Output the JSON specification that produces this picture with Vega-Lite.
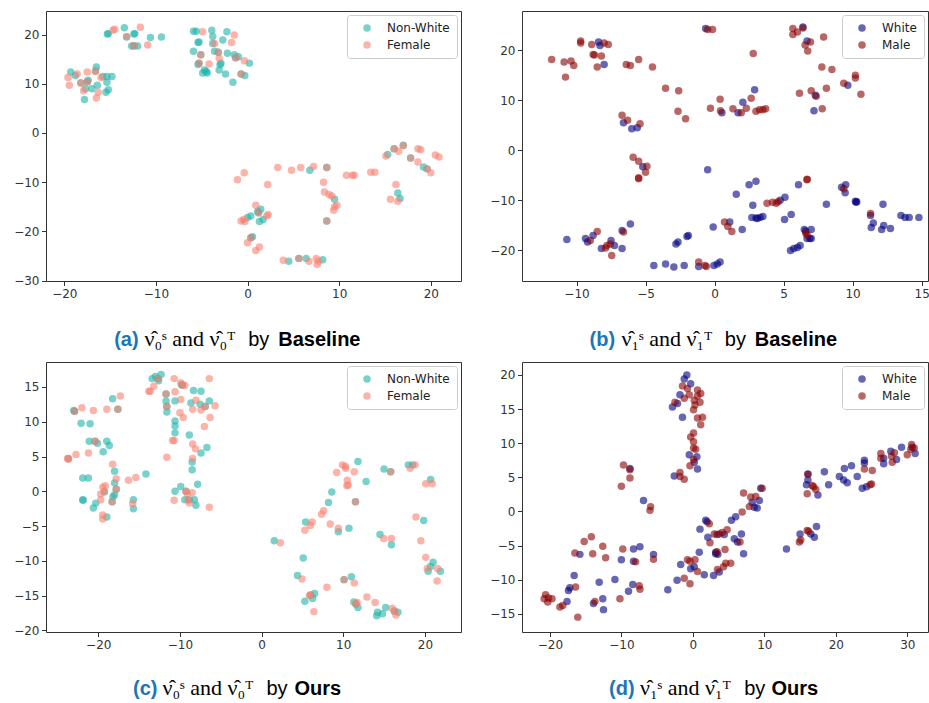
{
"$schema": "https://vega.github.io/schema/vega-lite/v6.json",
"padding": {"left": 13, "top": 10, "right": 0, "bottom": 0},
"background": "white",
"config": {
  "view": {"stroke": "#333", "strokeWidth": 1},
  "axis": {"grid": false, "domain": false, "labelFont": "DejaVu Sans", "labelFontSize": 12, "labelColor": "#333", "tickColor": "#333", "tickSize": 4.5, "tickWidth": 1, "labelPadding": 2.5, "titleFont": "Liberation Sans", "titleFontSize": 20, "titleColor": "#000", "titleFontWeight": "normal", "titlePadding": 0, "minExtent": 0, "labelOverlap": false, "titleAlign": "left", "titleBaseline": "alphabetic", "titleAngle": 0, "titleLimit": 400},
  "legend": {"orient": "top-right", "offset": 4, "padding": 7, "symbolOffset": 7, "labelOffset": 14, "rowPadding": 5, "strokeColor": "#cccccc", "cornerRadius": 3, "fillColor": "rgba(255,255,255,0.8)", "symbolType": "circle", "symbolSize": 56, "symbolOpacity": 0.6, "symbolStrokeWidth": 0, "labelFont": "DejaVu Sans", "labelFontSize": 12, "labelColor": "#222", "title": null}
},
"datasets": {
"a": [
{"g":"Non-White","x":-13.45,"y":21.4},{"g":"Non-White","x":-15.3,"y":20.1},{"g":"Non-White","x":-15.2,"y":20.2},{"g":"Non-White","x":-12.4,"y":20.1},{"g":"Non-White","x":-12.3,"y":20.2},{"g":"Non-White","x":-13.2,"y":19.5},{"g":"Non-White","x":-10.6,"y":19.4},{"g":"Non-White","x":-9.4,"y":19.5},{"g":"Non-White","x":-12.65,"y":17.7},{"g":"Non-White","x":-12.4,"y":17.7},{"g":"Non-White","x":-12.0,"y":17.7},
{"g":"Non-White","x":-19.3,"y":12.4},{"g":"Non-White","x":-18.8,"y":11.7},{"g":"Non-White","x":-18.2,"y":10.2},{"g":"Non-White","x":-17.4,"y":10.7},{"g":"Non-White","x":-17.5,"y":10.4},{"g":"Non-White","x":-17.7,"y":9.0},{"g":"Non-White","x":-17.8,"y":6.8},{"g":"Non-White","x":-17.0,"y":9.0},{"g":"Non-White","x":-16.5,"y":13.4},{"g":"Non-White","x":-16.6,"y":12.6},{"g":"Non-White","x":-16.4,"y":9.7},{"g":"Non-White","x":-15.8,"y":11.5},{"g":"Non-White","x":-15.35,"y":11.5},{"g":"Non-White","x":-14.8,"y":11.5},{"g":"Non-White","x":-15.35,"y":10.3},{"g":"Non-White","x":-15.45,"y":8.3},{"g":"Non-White","x":-15.2,"y":8.8},
{"g":"Non-White","x":-5.9,"y":20.7},{"g":"Non-White","x":-5.6,"y":20.7},{"g":"Non-White","x":-3.9,"y":20.9},{"g":"Non-White","x":-3.8,"y":19.6},{"g":"Non-White","x":-3.8,"y":18.2},{"g":"Non-White","x":-2.7,"y":18.9},{"g":"Non-White","x":-2.25,"y":20.6},{"g":"Non-White","x":-5.4,"y":18.4},{"g":"Non-White","x":-5.3,"y":18.5},{"g":"Non-White","x":-5.9,"y":16.6},{"g":"Non-White","x":-5.1,"y":15.9},{"g":"Non-White","x":-5.3,"y":14.2},{"g":"Non-White","x":-5.4,"y":13.9},{"g":"Non-White","x":-4.7,"y":12.8},{"g":"Non-White","x":-4.4,"y":12.2},{"g":"Non-White","x":-4.9,"y":12.2},{"g":"Non-White","x":-4.5,"y":12.5},{"g":"Non-White","x":-3.6,"y":16.6},{"g":"Non-White","x":-3.2,"y":16.4},{"g":"Non-White","x":-3.0,"y":13.9},{"g":"Non-White","x":-2.9,"y":14.2},{"g":"Non-White","x":-3.1,"y":12.8},{"g":"Non-White","x":-2.4,"y":12.0},{"g":"Non-White","x":-2.2,"y":16.2},{"g":"Non-White","x":-1.45,"y":15.9},{"g":"Non-White","x":-1.0,"y":15.5},{"g":"Non-White","x":-1.3,"y":15.3},{"g":"Non-White","x":-1.6,"y":10.3},{"g":"Non-White","x":-0.7,"y":12.0},{"g":"Non-White","x":-0.3,"y":11.7},{"g":"Non-White","x":0.2,"y":14.2},
{"g":"Non-White","x":6.8,"y":-7.6},{"g":"Non-White","x":8.65,"y":-7.0},{"g":"Non-White","x":9.5,"y":-13.5},{"g":"Non-White","x":8.65,"y":-17.9},{"g":"Non-White","x":15.3,"y":-4.4},{"g":"Non-White","x":16.0,"y":-3.2},{"g":"Non-White","x":17.0,"y":-2.5},{"g":"Non-White","x":17.8,"y":-5.1},{"g":"Non-White","x":19.2,"y":-6.9},{"g":"Non-White","x":19.6,"y":-7.3},{"g":"Non-White","x":16.4,"y":-12.2},{"g":"Non-White","x":16.65,"y":-13.3},{"g":"Non-White","x":0.36,"y":-16.9},{"g":"Non-White","x":0.0,"y":-17.2},{"g":"Non-White","x":1.1,"y":-15.9},{"g":"Non-White","x":1.45,"y":-15.5},{"g":"Non-White","x":1.2,"y":-16.2},{"g":"Non-White","x":1.3,"y":-18.0},{"g":"Non-White","x":1.7,"y":-17.6},{"g":"Non-White","x":0.55,"y":-21.1},{"g":"Non-White","x":0.36,"y":-21.3},{"g":"Non-White","x":4.5,"y":-26.1},{"g":"Non-White","x":5.6,"y":-25.5},{"g":"Non-White","x":6.4,"y":-25.5},{"g":"Non-White","x":8.2,"y":-25.8},
{"g":"Female","x":-14.5,"y":21.1},{"g":"Female","x":-14.7,"y":20.9},{"g":"Female","x":-11.7,"y":21.5},{"g":"Female","x":-13.2,"y":19.6},{"g":"Female","x":-12.4,"y":17.8},{"g":"Female","x":-10.9,"y":17.9},
{"g":"Female","x":-19.6,"y":11.3},{"g":"Female","x":-19.45,"y":9.7},{"g":"Female","x":-18.6,"y":12.0},{"g":"Female","x":-18.2,"y":10.1},{"g":"Female","x":-17.5,"y":12.4},{"g":"Female","x":-17.5,"y":10.3},{"g":"Female","x":-17.9,"y":8.6},{"g":"Female","x":-16.5,"y":7.1},{"g":"Female","x":-16.3,"y":8.3},{"g":"Female","x":-16.0,"y":11.3},{"g":"Female","x":-16.6,"y":12.5},
{"g":"Female","x":-4.9,"y":20.6},{"g":"Female","x":-3.6,"y":18.2},{"g":"Female","x":-1.45,"y":19.9},{"g":"Female","x":-1.75,"y":18.4},{"g":"Female","x":-5.1,"y":15.9},{"g":"Female","x":-5.3,"y":14.2},{"g":"Female","x":-4.2,"y":14.0},{"g":"Female","x":-3.2,"y":16.4},{"g":"Female","x":-3.1,"y":15.2},{"g":"Female","x":-1.3,"y":15.3},{"g":"Female","x":-0.7,"y":12.0},{"g":"Female","x":-0.35,"y":14.7},
{"g":"Female","x":-1.1,"y":-9.5},{"g":"Female","x":-0.36,"y":-8.1},{"g":"Female","x":2.2,"y":-10.5},{"g":"Female","x":3.3,"y":-7.0},{"g":"Female","x":4.8,"y":-7.6},{"g":"Female","x":5.8,"y":-7.0},{"g":"Female","x":7.2,"y":-6.8},{"g":"Female","x":8.65,"y":-7.0},{"g":"Female","x":8.3,"y":-10.0},{"g":"Female","x":8.4,"y":-12.0},{"g":"Female","x":8.9,"y":-12.5},{"g":"Female","x":9.2,"y":-12.8},{"g":"Female","x":9.75,"y":-14.7},{"g":"Female","x":9.4,"y":-15.7},{"g":"Female","x":9.5,"y":-15.0},{"g":"Female","x":8.65,"y":-17.9},{"g":"Female","x":10.8,"y":-8.6},{"g":"Female","x":11.45,"y":-8.6},{"g":"Female","x":11.65,"y":-8.6},{"g":"Female","x":13.45,"y":-8.0},{"g":"Female","x":13.9,"y":-8.0},{"g":"Female","x":15.1,"y":-4.7},{"g":"Female","x":16.0,"y":-3.2},{"g":"Female","x":16.5,"y":-3.7},{"g":"Female","x":17.0,"y":-2.6},{"g":"Female","x":17.8,"y":-5.1},{"g":"Female","x":18.6,"y":-3.2},{"g":"Female","x":18.9,"y":-3.4},{"g":"Female","x":18.6,"y":-5.9},{"g":"Female","x":19.6,"y":-7.3},{"g":"Female","x":20.0,"y":-8.1},{"g":"Female","x":20.5,"y":-4.5},{"g":"Female","x":20.9,"y":-4.9},{"g":"Female","x":16.2,"y":-10.5},{"g":"Female","x":15.6,"y":-13.5},{"g":"Female","x":16.4,"y":-13.9},{"g":"Female","x":-0.44,"y":-17.6},{"g":"Female","x":-0.7,"y":-17.9},{"g":"Female","x":-0.3,"y":-18.0},{"g":"Female","x":0.9,"y":-14.7},{"g":"Female","x":1.2,"y":-16.2},{"g":"Female","x":2.25,"y":-16.6},{"g":"Female","x":2.1,"y":-16.9},{"g":"Female","x":0.36,"y":-21.3},{"g":"Female","x":0.0,"y":-22.3},{"g":"Female","x":0.9,"y":-23.9},{"g":"Female","x":1.3,"y":-23.2},{"g":"Female","x":3.9,"y":-25.9},{"g":"Female","x":5.6,"y":-25.5},{"g":"Female","x":6.7,"y":-26.1},{"g":"Female","x":7.5,"y":-25.5},{"g":"Female","x":7.6,"y":-26.7},{"g":"Female","x":7.75,"y":-26.1}
],
"b": [
{"g":"White","x":-8.4,"y":21.6},{"g":"White","x":-8.3,"y":20.9},{"g":"White","x":-8.0,"y":17.1},{"g":"White","x":-6.6,"y":5.5},{"g":"White","x":-6.0,"y":4.3},{"g":"White","x":-5.6,"y":4.5},{"g":"White","x":-5.2,"y":-3.3},{"g":"White","x":-0.5,"y":-3.9},{"g":"White","x":-0.65,"y":24.3},{"g":"White","x":-10.7,"y":-17.8},{"g":"White","x":-9.35,"y":-17.6},{"g":"White","x":-9.2,"y":-18.3},{"g":"White","x":-8.8,"y":-17.0},{"g":"White","x":-8.2,"y":-19.6},{"g":"White","x":-7.5,"y":-18.0},{"g":"White","x":-7.25,"y":-19.0},{"g":"White","x":-6.7,"y":-19.6},{"g":"White","x":-6.7,"y":-16.0},{"g":"White","x":-6.1,"y":-14.7},{"g":"White","x":-4.4,"y":-23.0},{"g":"White","x":-3.55,"y":-22.7},{"g":"White","x":-2.95,"y":-23.3},{"g":"White","x":-2.2,"y":-23.0},{"g":"White","x":-2.8,"y":-18.7},{"g":"White","x":-2.65,"y":-18.3},{"g":"White","x":-2.0,"y":-17.2},{"g":"White","x":-1.9,"y":-17.0},{"g":"White","x":-1.15,"y":-23.2},{"g":"White","x":-0.1,"y":-15.3},{"g":"White","x":0.2,"y":-22.7},{"g":"White","x":0.4,"y":-22.3},{"g":"White","x":-0.05,"y":-23.0},
{"g":"White","x":6.4,"y":24.6},{"g":"White","x":6.7,"y":21.8},{"g":"White","x":9.65,"y":13.0},{"g":"White","x":7.3,"y":11.0},{"g":"White","x":7.2,"y":7.9},{"g":"White","x":0.53,"y":7.5},{"g":"White","x":1.7,"y":7.5},{"g":"White","x":2.05,"y":9.6},{"g":"White","x":2.9,"y":12.1},{"g":"White","x":1.1,"y":-14.3},{"g":"White","x":2.0,"y":-15.8},{"g":"White","x":1.57,"y":-8.8},{"g":"White","x":2.5,"y":-6.9},{"g":"White","x":3.0,"y":-6.2},{"g":"White","x":2.77,"y":-11.0},{"g":"White","x":2.7,"y":-13.4},{"g":"White","x":3.1,"y":-13.6},{"g":"White","x":3.5,"y":-13.2},{"g":"White","x":3.0,"y":-13.5},{"g":"White","x":3.3,"y":-13.4},{"g":"White","x":4.75,"y":-10.0},{"g":"White","x":5.1,"y":-9.4},{"g":"White","x":5.07,"y":-13.8},{"g":"White","x":5.55,"y":-12.8},{"g":"White","x":6.08,"y":-6.9},{"g":"White","x":5.5,"y":-20.0},{"g":"White","x":5.74,"y":-19.6},{"g":"White","x":6.0,"y":-19.4},{"g":"White","x":6.2,"y":-19.0},{"g":"White","x":6.5,"y":-15.8},{"g":"White","x":7.0,"y":-15.8},{"g":"White","x":6.6,"y":-16.1},{"g":"White","x":6.9,"y":-17.6},{"g":"White","x":7.0,"y":-17.6},{"g":"White","x":6.7,"y":-17.6},{"g":"White","x":8.1,"y":-10.8},{"g":"White","x":9.2,"y":-7.4},{"g":"White","x":9.5,"y":-6.9},{"g":"White","x":9.46,"y":-8.5},{"g":"White","x":10.2,"y":-10.2},{"g":"White","x":10.3,"y":-10.3},{"g":"White","x":10.25,"y":-10.4},{"g":"White","x":11.3,"y":-13.0},{"g":"White","x":11.5,"y":-14.5},{"g":"White","x":11.35,"y":-15.4},{"g":"White","x":12.2,"y":-10.8},{"g":"White","x":12.25,"y":-15.0},{"g":"White","x":12.1,"y":-15.8},{"g":"White","x":12.74,"y":-15.6},{"g":"White","x":13.5,"y":-13.0},{"g":"White","x":13.8,"y":-13.4},{"g":"White","x":14.1,"y":-13.4},{"g":"White","x":14.8,"y":-13.4},
{"g":"Male","x":-11.8,"y":18.1},{"g":"Male","x":-10.9,"y":17.6},{"g":"Male","x":-10.8,"y":14.6},{"g":"Male","x":-10.4,"y":17.8},{"g":"Male","x":-10.2,"y":16.9},{"g":"Male","x":-9.7,"y":21.4},{"g":"Male","x":-9.7,"y":21.8},{"g":"Male","x":-8.9,"y":21.1},{"g":"Male","x":-8.0,"y":21.4},{"g":"Male","x":-7.7,"y":21.1},{"g":"Male","x":-8.8,"y":19.1},{"g":"Male","x":-8.7,"y":19.0},{"g":"Male","x":-8.2,"y":18.8},{"g":"Male","x":-8.5,"y":16.6},{"g":"Male","x":-6.4,"y":17.1},{"g":"Male","x":-6.1,"y":16.9},{"g":"Male","x":-5.5,"y":18.1},{"g":"Male","x":-4.5,"y":16.6},{"g":"Male","x":-3.55,"y":12.4},{"g":"Male","x":-2.6,"y":11.9},{"g":"Male","x":-2.65,"y":7.8},{"g":"Male","x":-2.1,"y":6.3},{"g":"Male","x":-6.7,"y":7.0},{"g":"Male","x":-6.3,"y":6.0},{"g":"Male","x":-5.4,"y":5.3},{"g":"Male","x":-5.9,"y":-1.4},{"g":"Male","x":-5.5,"y":-2.2},{"g":"Male","x":-4.9,"y":-3.2},{"g":"Male","x":-5.0,"y":-4.4},{"g":"Male","x":-5.5,"y":-5.5},{"g":"Male","x":-5.5,"y":-5.7},{"g":"Male","x":-0.5,"y":24.1},{"g":"Male","x":-0.15,"y":24.1},{"g":"Male","x":0.4,"y":10.2},{"g":"Male","x":-9.0,"y":-18.0},{"g":"Male","x":-8.5,"y":-16.2},{"g":"Male","x":-7.9,"y":-19.5},{"g":"Male","x":-7.8,"y":-19.0},{"g":"Male","x":-7.55,"y":-18.7},{"g":"Male","x":-7.45,"y":-21.0},{"g":"Male","x":-6.6,"y":-16.3},{"g":"Male","x":-1.15,"y":-22.3},{"g":"Male","x":-0.7,"y":-23.0},{"g":"Male","x":-0.6,"y":-23.2},
{"g":"Male","x":5.67,"y":24.3},{"g":"Male","x":5.67,"y":23.1},{"g":"Male","x":6.0,"y":23.6},{"g":"Male","x":6.4,"y":24.4},{"g":"Male","x":6.56,"y":21.0},{"g":"Male","x":6.95,"y":21.6},{"g":"Male","x":6.75,"y":19.8},{"g":"Male","x":7.9,"y":22.6},{"g":"Male","x":2.8,"y":19.3},{"g":"Male","x":7.77,"y":16.6},{"g":"Male","x":8.5,"y":16.1},{"g":"Male","x":9.36,"y":13.4},{"g":"Male","x":10.2,"y":15.0},{"g":"Male","x":10.2,"y":14.4},{"g":"Male","x":10.6,"y":11.2},{"g":"Male","x":6.15,"y":11.4},{"g":"Male","x":7.0,"y":11.9},{"g":"Male","x":7.36,"y":10.8},{"g":"Male","x":8.1,"y":12.4},{"g":"Male","x":7.8,"y":8.3},{"g":"Male","x":-0.3,"y":8.4},{"g":"Male","x":0.43,"y":7.9},{"g":"Male","x":1.33,"y":8.3},{"g":"Male","x":1.93,"y":7.5},{"g":"Male","x":2.3,"y":8.4},{"g":"Male","x":2.65,"y":10.4},{"g":"Male","x":3.0,"y":7.8},{"g":"Male","x":3.26,"y":8.1},{"g":"Male","x":3.5,"y":8.1},{"g":"Male","x":3.7,"y":8.3},{"g":"Male","x":0.72,"y":-14.3},{"g":"Male","x":0.96,"y":-15.2},{"g":"Male","x":1.25,"y":-16.2},{"g":"Male","x":3.8,"y":-10.6},{"g":"Male","x":4.2,"y":-10.4},{"g":"Male","x":4.46,"y":-10.6},{"g":"Male","x":4.6,"y":-10.3},{"g":"Male","x":6.7,"y":-5.9},{"g":"Male","x":6.7,"y":-5.8},{"g":"Male","x":6.6,"y":-16.5},{"g":"Male","x":6.7,"y":-16.9},{"g":"Male","x":9.36,"y":-7.7},{"g":"Male","x":11.3,"y":-12.6}
],
"c": [
{"g":"Non-White","x":-23.65,"y":4.7},{"g":"Non-White","x":-23.0,"y":11.6},{"g":"Non-White","x":-22.9,"y":11.5},{"g":"Non-White","x":-22.1,"y":9.8},{"g":"Non-White","x":-21.0,"y":9.7},{"g":"Non-White","x":-21.9,"y":1.9},{"g":"Non-White","x":-21.2,"y":1.9},{"g":"Non-White","x":-21.9,"y":-1.2},{"g":"Non-White","x":-21.85,"y":-1.3},{"g":"Non-White","x":-20.3,"y":-1.7},{"g":"Non-White","x":-20.6,"y":-2.4},{"g":"Non-White","x":-21.1,"y":7.2},{"g":"Non-White","x":-20.4,"y":7.2},{"g":"Non-White","x":-20.1,"y":6.9},{"g":"Non-White","x":-19.4,"y":5.7},{"g":"Non-White","x":-18.95,"y":7.2},{"g":"Non-White","x":-18.65,"y":6.6},{"g":"Non-White","x":-18.24,"y":13.3},{"g":"Non-White","x":-17.6,"y":11.8},{"g":"Non-White","x":-18.0,"y":2.9},{"g":"Non-White","x":-18.0,"y":1.2},{"g":"Non-White","x":-17.8,"y":0.3},{"g":"Non-White","x":-18.0,"y":-0.5},{"g":"Non-White","x":-18.2,"y":-0.8},{"g":"Non-White","x":-18.3,"y":-1.5},{"g":"Non-White","x":-19.25,"y":-0.1},{"g":"Non-White","x":-18.95,"y":-3.7},{"g":"Non-White","x":-14.16,"y":2.5},{"g":"Non-White","x":-15.7,"y":-1.2},{"g":"Non-White","x":-15.7,"y":-2.5},
{"g":"Non-White","x":-13.4,"y":16.2},{"g":"Non-White","x":-13.0,"y":16.5},{"g":"Non-White","x":-12.3,"y":16.8},{"g":"Non-White","x":-12.6,"y":15.9},{"g":"Non-White","x":-12.7,"y":16.2},{"g":"Non-White","x":-11.7,"y":14.0},{"g":"Non-White","x":-11.7,"y":13.0},{"g":"Non-White","x":-11.6,"y":12.2},{"g":"Non-White","x":-11.6,"y":11.4},{"g":"Non-White","x":-9.8,"y":15.3},{"g":"Non-White","x":-9.7,"y":15.3},{"g":"Non-White","x":-10.6,"y":13.0},{"g":"Non-White","x":-10.6,"y":10.1},{"g":"Non-White","x":-10.6,"y":9.4},{"g":"Non-White","x":-10.6,"y":8.4},{"g":"Non-White","x":-8.34,"y":14.5},{"g":"Non-White","x":-7.42,"y":14.4},{"g":"Non-White","x":-8.65,"y":12.7},{"g":"Non-White","x":-7.52,"y":12.5},{"g":"Non-White","x":-6.91,"y":12.2},{"g":"Non-White","x":-6.4,"y":13.0},{"g":"Non-White","x":-8.85,"y":8.1},{"g":"Non-White","x":-6.7,"y":6.3},{"g":"Non-White","x":-7.42,"y":5.5},{"g":"Non-White","x":-8.5,"y":4.2},{"g":"Non-White","x":-8.5,"y":3.1},{"g":"Non-White","x":-7.83,"y":1.0},{"g":"Non-White","x":-9.9,"y":0.7},{"g":"Non-White","x":-10.6,"y":0.0},{"g":"Non-White","x":-9.26,"y":0.0},{"g":"Non-White","x":-9.4,"y":-1.2},{"g":"Non-White","x":-8.85,"y":-1.2},{"g":"Non-White","x":-8.24,"y":-1.2},{"g":"Non-White","x":-8.04,"y":-2.0},
{"g":"Non-White","x":1.55,"y":-7.1},{"g":"Non-White","x":5.1,"y":-9.6},{"g":"Non-White","x":4.4,"y":-12.1},{"g":"Non-White","x":5.3,"y":-15.8},{"g":"Non-White","x":6.0,"y":-14.9},{"g":"Non-White","x":6.5,"y":-14.7},{"g":"Non-White","x":6.25,"y":-15.4},{"g":"Non-White","x":5.4,"y":-4.4},{"g":"Non-White","x":8.2,"y":-1.6},{"g":"Non-White","x":8.6,"y":-0.1},{"g":"Non-White","x":9.4,"y":-5.8},{"g":"Non-White","x":10.7,"y":-5.3},{"g":"Non-White","x":11.8,"y":4.3},{"g":"Non-White","x":12.8,"y":1.4},{"g":"Non-White","x":11.5,"y":-1.5},{"g":"Non-White","x":11.0,"y":-12.3},{"g":"Non-White","x":10.1,"y":-12.7},{"g":"Non-White","x":11.3,"y":-15.9},{"g":"Non-White","x":11.55,"y":-16.2},{"g":"Non-White","x":11.8,"y":-16.7},{"g":"Non-White","x":14.2,"y":-17.4},{"g":"Non-White","x":14.1,"y":-17.9},{"g":"Non-White","x":14.8,"y":-17.6},{"g":"Non-White","x":15.2,"y":-16.7},{"g":"Non-White","x":16.7,"y":-17.4},{"g":"Non-White","x":16.25,"y":-17.2},{"g":"Non-White","x":15.0,"y":3.2},{"g":"Non-White","x":15.8,"y":2.8},{"g":"Non-White","x":14.5,"y":-6.2},{"g":"Non-White","x":15.9,"y":-7.7},{"g":"Non-White","x":17.97,"y":3.8},{"g":"Non-White","x":18.5,"y":3.8},{"g":"Non-White","x":19.85,"y":-4.2},{"g":"Non-White","x":20.7,"y":1.7},{"g":"Non-White","x":20.4,"y":-11.5},{"g":"Non-White","x":21.0,"y":-10.2},{"g":"Non-White","x":20.7,"y":-10.8},{"g":"Non-White","x":21.9,"y":-11.5},
{"g":"Female","x":-23.75,"y":4.7},{"g":"Female","x":-23.65,"y":4.6},{"g":"Female","x":-22.73,"y":5.3},{"g":"Female","x":-22.9,"y":11.5},{"g":"Female","x":-22.0,"y":12.0},{"g":"Female","x":-20.6,"y":11.6},{"g":"Female","x":-20.4,"y":7.2},{"g":"Female","x":-21.2,"y":5.5},{"g":"Female","x":-18.95,"y":11.8},{"g":"Female","x":-17.3,"y":13.7},{"g":"Female","x":-17.6,"y":11.8},{"g":"Female","x":-18.24,"y":3.9},{"g":"Female","x":-17.8,"y":1.8},{"g":"Female","x":-17.8,"y":0.3},{"g":"Female","x":-18.3,"y":-1.5},{"g":"Female","x":-19.7,"y":-0.4},{"g":"Female","x":-19.25,"y":0.0},{"g":"Female","x":-19.15,"y":0.8},{"g":"Female","x":-19.45,"y":0.6},{"g":"Female","x":-19.7,"y":-1.2},{"g":"Female","x":-19.45,"y":-3.4},{"g":"Female","x":-19.45,"y":-4.0},{"g":"Female","x":-16.3,"y":1.6},{"g":"Female","x":-15.4,"y":2.0},{"g":"Female","x":-15.8,"y":-1.8},
{"g":"Female","x":-13.65,"y":14.4},{"g":"Female","x":-13.8,"y":14.4},{"g":"Female","x":-13.2,"y":15.1},{"g":"Female","x":-12.7,"y":16.2},{"g":"Female","x":-11.7,"y":14.0},{"g":"Female","x":-11.6,"y":12.2},{"g":"Female","x":-10.7,"y":16.2},{"g":"Female","x":-9.9,"y":15.6},{"g":"Female","x":-9.4,"y":15.2},{"g":"Female","x":-9.7,"y":15.3},{"g":"Female","x":-10.6,"y":14.3},{"g":"Female","x":-9.9,"y":13.2},{"g":"Female","x":-10.0,"y":11.3},{"g":"Female","x":-9.6,"y":10.6},{"g":"Female","x":-10.9,"y":7.3},{"g":"Female","x":-10.7,"y":7.3},{"g":"Female","x":-11.6,"y":4.9},{"g":"Female","x":-8.04,"y":13.1},{"g":"Female","x":-8.44,"y":11.8},{"g":"Female","x":-7.42,"y":11.7},{"g":"Female","x":-6.91,"y":12.2},{"g":"Female","x":-6.4,"y":16.2},{"g":"Female","x":-5.7,"y":12.3},{"g":"Female","x":-6.3,"y":10.6},{"g":"Female","x":-7.0,"y":9.3},{"g":"Female","x":-8.44,"y":6.8},{"g":"Female","x":-8.1,"y":6.1},{"g":"Female","x":-8.44,"y":4.7},{"g":"Female","x":-10.7,"y":-1.3},{"g":"Female","x":-9.26,"y":0.0},{"g":"Female","x":-9.1,"y":-0.3},{"g":"Female","x":-8.5,"y":-0.2},{"g":"Female","x":-9.0,"y":-1.2},{"g":"Female","x":-8.85,"y":-1.7},{"g":"Female","x":-6.4,"y":-2.3},
{"g":"Female","x":2.3,"y":-7.4},{"g":"Female","x":4.95,"y":-12.6},{"g":"Female","x":6.0,"y":-14.9},{"g":"Female","x":5.85,"y":-15.0},{"g":"Female","x":6.4,"y":-17.3},{"g":"Female","x":8.0,"y":-13.8},{"g":"Female","x":5.3,"y":-5.6},{"g":"Female","x":5.97,"y":-4.9},{"g":"Female","x":6.2,"y":-4.4},{"g":"Female","x":7.35,"y":-3.3},{"g":"Female","x":7.6,"y":-2.8},{"g":"Female","x":8.4,"y":-4.7},{"g":"Female","x":9.4,"y":-5.3},{"g":"Female","x":9.2,"y":2.7},{"g":"Female","x":9.9,"y":3.8},{"g":"Female","x":10.3,"y":3.3},{"g":"Female","x":10.25,"y":3.6},{"g":"Female","x":10.5,"y":1.6},{"g":"Female","x":10.45,"y":0.8},{"g":"Female","x":10.6,"y":0.9},{"g":"Female","x":11.35,"y":2.8},{"g":"Female","x":11.5,"y":-1.5},{"g":"Female","x":10.1,"y":-12.7},{"g":"Female","x":11.35,"y":-13.2},{"g":"Female","x":11.55,"y":-16.2},{"g":"Female","x":11.7,"y":-16.0},{"g":"Female","x":12.9,"y":-15.2},{"g":"Female","x":13.9,"y":-16.0},{"g":"Female","x":16.0,"y":-16.8},{"g":"Female","x":16.45,"y":-17.8},{"g":"Female","x":16.25,"y":-17.2},{"g":"Female","x":15.8,"y":2.8},{"g":"Female","x":14.95,"y":-6.8},{"g":"Female","x":15.9,"y":-6.8},{"g":"Female","x":18.2,"y":3.3},{"g":"Female","x":18.8,"y":3.8},{"g":"Female","x":18.9,"y":-3.7},{"g":"Female","x":19.5,"y":-7.1},{"g":"Female","x":20.1,"y":1.1},{"g":"Female","x":20.9,"y":1.1},{"g":"Female","x":20.1,"y":-9.5},{"g":"Female","x":20.3,"y":-11.1},{"g":"Female","x":21.55,"y":-11.1},{"g":"Female","x":21.5,"y":-12.9}
],
"d": [
{"g":"White","x":-0.84,"y":20.0},{"g":"White","x":-1.2,"y":19.4},{"g":"White","x":-0.3,"y":18.7},{"g":"White","x":-1.8,"y":17.1},{"g":"White","x":-2.85,"y":15.3},{"g":"White","x":-2.15,"y":15.8},{"g":"White","x":-1.45,"y":13.8},{"g":"White","x":-0.5,"y":8.3},{"g":"White","x":0.56,"y":8.0},{"g":"White","x":0.2,"y":7.2},{"g":"White","x":0.65,"y":6.2},{"g":"White","x":-2.6,"y":5.2},{"g":"White","x":-8.8,"y":6.3},{"g":"White","x":-6.9,"y":1.6},{"g":"White","x":-15.8,"y":-6.3},{"g":"White","x":-10.0,"y":-7.1},{"g":"White","x":-8.3,"y":-5.5},{"g":"White","x":-7.4,"y":-5.2},{"g":"White","x":-8.3,"y":-7.3},{"g":"White","x":-5.5,"y":-6.3},{"g":"White","x":-16.6,"y":-9.4},{"g":"White","x":-17.2,"y":-11.2},{"g":"White","x":-17.4,"y":-11.6},{"g":"White","x":-17.6,"y":-13.2},{"g":"White","x":-13.9,"y":-13.5},{"g":"White","x":-12.6,"y":-12.8},{"g":"White","x":-12.5,"y":-14.4},{"g":"White","x":-13.1,"y":-10.4},{"g":"White","x":-10.9,"y":-10.0},{"g":"White","x":-9.0,"y":-11.7},{"g":"White","x":-8.4,"y":-10.7},{"g":"White","x":-3.5,"y":-11.5},{"g":"White","x":-2.2,"y":-10.1},{"g":"White","x":-1.7,"y":-7.8},{"g":"White","x":-0.3,"y":-8.4},{"g":"White","x":0.2,"y":-8.1},{"g":"White","x":0.9,"y":-6.0},{"g":"White","x":1.0,"y":-2.6},{"g":"White","x":2.0,"y":-1.5},{"g":"White","x":2.1,"y":-3.8},{"g":"White","x":1.6,"y":-9.3},{"g":"White","x":3.2,"y":-6.2},
{"g":"White","x":1.8,"y":-1.3},{"g":"White","x":3.4,"y":-3.4},{"g":"White","x":4.4,"y":-3.4},{"g":"White","x":3.2,"y":-6.0},{"g":"White","x":3.5,"y":-6.3},{"g":"White","x":2.9,"y":-9.4},{"g":"White","x":3.7,"y":-8.9},{"g":"White","x":5.4,"y":-1.3},{"g":"White","x":6.0,"y":-0.8},{"g":"White","x":5.8,"y":-4.0},{"g":"White","x":6.8,"y":-3.3},{"g":"White","x":6.25,"y":-4.5},{"g":"White","x":7.1,"y":-6.2},{"g":"White","x":8.3,"y":1.3},{"g":"White","x":8.6,"y":0.6},{"g":"White","x":9.3,"y":1.6},{"g":"White","x":9.0,"y":0.5},{"g":"White","x":9.5,"y":3.4},{"g":"White","x":13.1,"y":-5.5},{"g":"White","x":15.0,"y":-3.3},{"g":"White","x":16.5,"y":-3.3},{"g":"White","x":17.0,"y":-3.8},{"g":"White","x":17.3,"y":-2.2},{"g":"White","x":16.1,"y":4.6},{"g":"White","x":16.1,"y":5.5},{"g":"White","x":15.9,"y":3.9},{"g":"White","x":17.5,"y":2.4},{"g":"White","x":18.4,"y":5.8},{"g":"White","x":19.0,"y":3.9},{"g":"White","x":20.5,"y":5.1},{"g":"White","x":21.1,"y":4.6},{"g":"White","x":21.6,"y":4.2},{"g":"White","x":21.2,"y":6.3},{"g":"White","x":22.2,"y":6.7},{"g":"White","x":23.0,"y":5.1},{"g":"White","x":24.0,"y":7.5},{"g":"White","x":24.0,"y":7.1},{"g":"White","x":23.7,"y":3.4},{"g":"White","x":24.3,"y":3.6},{"g":"White","x":26.7,"y":7.8},{"g":"White","x":26.7,"y":7.0},{"g":"White","x":27.7,"y":8.8},{"g":"White","x":28.5,"y":7.6},{"g":"White","x":29.2,"y":9.4},{"g":"White","x":31.1,"y":8.5},{"g":"White","x":30.7,"y":9.4},
{"g":"Male","x":-1.45,"y":18.4},{"g":"Male","x":-0.75,"y":18.0},{"g":"Male","x":0.65,"y":17.8},{"g":"Male","x":-1.2,"y":16.6},{"g":"Male","x":-0.5,"y":17.1},{"g":"Male","x":-2.5,"y":16.0},{"g":"Male","x":0.2,"y":16.3},{"g":"Male","x":0.65,"y":16.9},{"g":"Male","x":0.3,"y":15.6},{"g":"Male","x":1.0,"y":16.0},{"g":"Male","x":0.1,"y":14.9},{"g":"Male","x":0.65,"y":13.7},{"g":"Male","x":1.35,"y":13.8},{"g":"Male","x":1.1,"y":12.7},{"g":"Male","x":0.1,"y":11.5},{"g":"Male","x":-0.3,"y":10.9},{"g":"Male","x":0.1,"y":10.2},{"g":"Male","x":0.1,"y":9.3},{"g":"Male","x":0.4,"y":9.1},{"g":"Male","x":0.1,"y":7.6},{"g":"Male","x":-0.4,"y":6.7},{"g":"Male","x":-1.8,"y":5.7},{"g":"Male","x":-1.8,"y":5.1},{"g":"Male","x":-1.2,"y":4.7},{"g":"Male","x":1.1,"y":17.3},{"g":"Male","x":-9.7,"y":6.8},{"g":"Male","x":-8.8,"y":6.1},{"g":"Male","x":-8.8,"y":4.9},{"g":"Male","x":-10.0,"y":3.7},{"g":"Male","x":-5.9,"y":0.7},{"g":"Male","x":-6.0,"y":0.15},{"g":"Male","x":-15.2,"y":-4.4},{"g":"Male","x":-14.2,"y":-3.7},{"g":"Male","x":-14.0,"y":-6.2},{"g":"Male","x":-12.6,"y":-5.1},{"g":"Male","x":-16.5,"y":-6.1},{"g":"Male","x":-12.2,"y":-6.8},{"g":"Male","x":-9.8,"y":-5.5},{"g":"Male","x":-8.0,"y":-7.4},{"g":"Male","x":-5.5,"y":-7.0},{"g":"Male","x":-16.4,"y":-11.1},{"g":"Male","x":-20.6,"y":-12.2},{"g":"Male","x":-20.2,"y":-12.7},{"g":"Male","x":-20.3,"y":-13.3},{"g":"Male","x":-19.7,"y":-12.8},{"g":"Male","x":-20.8,"y":-12.8},{"g":"Male","x":-18.6,"y":-14.0},{"g":"Male","x":-18.2,"y":-13.8},{"g":"Male","x":-16.1,"y":-15.5},{"g":"Male","x":-13.7,"y":-13.2},{"g":"Male","x":-10.2,"y":-12.8},{"g":"Male","x":-7.5,"y":-10.9},{"g":"Male","x":-7.4,"y":-11.4},{"g":"Male","x":-1.2,"y":-9.8},{"g":"Male","x":-0.4,"y":-10.6},{"g":"Male","x":-0.75,"y":-7.1},{"g":"Male","x":-0.4,"y":-7.3},{"g":"Male","x":0.3,"y":-7.1},{"g":"Male","x":0.65,"y":-8.8},{"g":"Male","x":2.4,"y":-4.6},{"g":"Male","x":3.0,"y":-3.3},{"g":"Male","x":3.7,"y":-3.3},{"g":"Male","x":3.4,"y":-5.9},{"g":"Male","x":3.45,"y":-8.5},
{"g":"Male","x":2.3,"y":-1.8},{"g":"Male","x":4.1,"y":-3.1},{"g":"Male","x":4.8,"y":-2.7},{"g":"Male","x":4.5,"y":-5.6},{"g":"Male","x":4.3,"y":-8.1},{"g":"Male","x":5.3,"y":-7.6},{"g":"Male","x":4.6,"y":-7.6},{"g":"Male","x":6.6,"y":-4.5},{"g":"Male","x":6.9,"y":-0.1},{"g":"Male","x":7.1,"y":2.7},{"g":"Male","x":8.1,"y":2.1},{"g":"Male","x":7.9,"y":0.7},{"g":"Male","x":8.8,"y":2.2},{"g":"Male","x":9.7,"y":3.4},{"g":"Male","x":14.9,"y":-4.5},{"g":"Male","x":15.1,"y":-4.2},{"g":"Male","x":16.0,"y":-2.8},{"g":"Male","x":16.2,"y":-2.9},{"g":"Male","x":16.1,"y":5.4},{"g":"Male","x":16.0,"y":2.6},{"g":"Male","x":16.7,"y":3.8},{"g":"Male","x":17.2,"y":3.2},{"g":"Male","x":16.9,"y":3.6},{"g":"Male","x":24.0,"y":6.2},{"g":"Male","x":25.1,"y":6.0},{"g":"Male","x":24.8,"y":3.9},{"g":"Male","x":25.0,"y":4.0},{"g":"Male","x":26.3,"y":8.5},{"g":"Male","x":26.3,"y":7.8},{"g":"Male","x":27.8,"y":8.1},{"g":"Male","x":27.9,"y":7.2},{"g":"Male","x":28.2,"y":8.6},{"g":"Male","x":30.0,"y":8.3},{"g":"Male","x":30.6,"y":9.8},{"g":"Male","x":30.97,"y":9.3},{"g":"Male","x":30.5,"y":9.1}
]
},
"resolve": {"scale": {"color": "independent"}, "legend": {"color": "independent"}},
"spacing": 11,
"vconcat": [
{"hconcat": [
{
 "width": 415, "height": 270,
 "data": {"name": "a"},
 "resolve": {"axis": {"x": "independent", "y": "independent"}},
 "layer": [
  {"transform": [{"filter": "datum.g === 'Non-White'"}],
   "mark": {"type": "circle", "size": 56, "opacity": 0.6},
   "encoding": {
    "x": {"field": "x", "type": "quantitative", "scale": {"domain": [-22.0, 23.3], "nice": false, "zero": false}, "axis": {"orient": "bottom", "values": [-20, -10, 0, 10, 20], "title": "(a)", "titleX": 67.7, "titleY": 64.3, "titleFontWeight": "bold", "titleColor": "#1a76b8"}},
    "y": {"field": "y", "type": "quantitative", "scale": {"domain": [-30.1, 24.8], "nice": false, "zero": false}, "axis": {"orient": "left", "values": [-30, -20, -10, 0, 10, 20], "title": "Baseline", "titleX": 231.7, "titleY": 334.3, "titleFontWeight": "bold"}},
    "color": {"field": "g", "type": "nominal", "scale": {"domain": ["Non-White", "Female"], "range": ["#20b2aa", "#fa8072"]}, "legend": {}}
   }},
  {"transform": [{"filter": "datum.g === 'Female'"}],
   "mark": {"type": "circle", "size": 56, "opacity": 0.6},
   "encoding": {
    "x": {"field": "x", "type": "quantitative", "scale": {"domain": [-22.0, 23.3], "nice": false, "zero": false}, "axis": {"orient": "top", "labels": false, "ticks": false, "domain": false, "title": "ν̂₀ˢ and ν̂₀ᵀ", "titleFont": "Liberation Serif", "titleFontSize": 22, "titleX": 98, "titleY": 334.3}},
    "y": {"field": "y", "type": "quantitative", "scale": {"domain": [-30.1, 24.8], "nice": false, "zero": false}, "axis": {"orient": "right", "labels": false, "ticks": false, "domain": false, "title": "by", "titleX": -213.3, "titleY": 334.3}},
    "color": {"field": "g", "type": "nominal", "scale": {"domain": ["Non-White", "Female"], "range": ["#20b2aa", "#fa8072"]}}
   }}
 ]
},
{
 "width": 406, "height": 270,
 "data": {"name": "b"},
 "resolve": {"axis": {"x": "independent", "y": "independent"}},
 "layer": [
  {"transform": [{"filter": "datum.g === 'White'"}],
   "mark": {"type": "circle", "size": 56, "opacity": 0.6},
   "encoding": {
    "x": {"field": "x", "type": "quantitative", "scale": {"domain": [-13.95, 15.46], "nice": false, "zero": false}, "axis": {"orient": "bottom", "values": [-10, -5, 0, 5, 10, 15], "title": "(b)", "titleX": 67, "titleY": 64.3, "titleFontWeight": "bold", "titleColor": "#1a76b8"}},
    "y": {"field": "y", "type": "quantitative", "scale": {"domain": [-26.1, 27.8], "nice": false, "zero": false}, "axis": {"orient": "left", "values": [-20, -10, 0, 10, 20], "title": "Baseline", "titleX": 232.3, "titleY": 334.3, "titleFontWeight": "bold"}},
    "color": {"field": "g", "type": "nominal", "scale": {"domain": ["White", "Male"], "range": ["#000080", "#8b0000"]}, "legend": {}}
   }},
  {"transform": [{"filter": "datum.g === 'Male'"}],
   "mark": {"type": "circle", "size": 56, "opacity": 0.6},
   "encoding": {
    "x": {"field": "x", "type": "quantitative", "scale": {"domain": [-13.95, 15.46], "nice": false, "zero": false}, "axis": {"orient": "top", "labels": false, "ticks": false, "domain": false, "title": "ν̂₁ˢ and ν̂₁ᵀ", "titleFont": "Liberation Serif", "titleFontSize": 22, "titleX": 99, "titleY": 334.3}},
    "y": {"field": "y", "type": "quantitative", "scale": {"domain": [-26.1, 27.8], "nice": false, "zero": false}, "axis": {"orient": "right", "labels": false, "ticks": false, "domain": false, "title": "by", "titleX": -203.7, "titleY": 334.3}},
    "color": {"field": "g", "type": "nominal", "scale": {"domain": ["White", "Male"], "range": ["#000080", "#8b0000"]}}
   }}
 ]
}
], "spacing": 27, "resolve": {"scale": {"color": "independent"}, "legend": {"color": "independent"}}},
{"hconcat": [
{
 "width": 415, "height": 270,
 "data": {"name": "c"},
 "resolve": {"axis": {"x": "independent", "y": "independent"}},
 "layer": [
  {"transform": [{"filter": "datum.g === 'Non-White'"}],
   "mark": {"type": "circle", "size": 56, "opacity": 0.6},
   "encoding": {
    "x": {"field": "x", "type": "quantitative", "scale": {"domain": [-26.4, 24.42], "nice": false, "zero": false}, "axis": {"orient": "bottom", "values": [-20, -10, 0, 10, 20], "title": "(c)", "titleX": 86.5, "titleY": 62.3, "titleFontWeight": "bold", "titleColor": "#1a76b8"}},
    "y": {"field": "y", "type": "quantitative", "scale": {"domain": [-20.23, 18.59], "nice": false, "zero": false}, "axis": {"orient": "left", "values": [-20, -15, -10, -5, 0, 5, 10, 15], "title": "Ours", "titleX": 248, "titleY": 332.3, "titleFontWeight": "bold"}},
    "color": {"field": "g", "type": "nominal", "scale": {"domain": ["Non-White", "Female"], "range": ["#20b2aa", "#fa8072"]}, "legend": {}}
   }},
  {"transform": [{"filter": "datum.g === 'Female'"}],
   "mark": {"type": "circle", "size": 56, "opacity": 0.6},
   "encoding": {
    "x": {"field": "x", "type": "quantitative", "scale": {"domain": [-26.4, 24.42], "nice": false, "zero": false}, "axis": {"orient": "top", "labels": false, "ticks": false, "domain": false, "title": "ν̂₀ˢ and ν̂₀ᵀ", "titleFont": "Liberation Serif", "titleFontSize": 22, "titleX": 116, "titleY": 332.3}},
    "y": {"field": "y", "type": "quantitative", "scale": {"domain": [-20.23, 18.59], "nice": false, "zero": false}, "axis": {"orient": "right", "labels": false, "ticks": false, "domain": false, "title": "by", "titleX": -195, "titleY": 332.3}},
    "color": {"field": "g", "type": "nominal", "scale": {"domain": ["Non-White", "Female"], "range": ["#20b2aa", "#fa8072"]}}
   }}
 ]
},
{
 "width": 406, "height": 270,
 "data": {"name": "d"},
 "resolve": {"axis": {"x": "independent", "y": "independent"}},
 "layer": [
  {"transform": [{"filter": "datum.g === 'White'"}],
   "mark": {"type": "circle", "size": 56, "opacity": 0.6},
   "encoding": {
    "x": {"field": "x", "type": "quantitative", "scale": {"domain": [-23.9, 32.9], "nice": false, "zero": false}, "axis": {"orient": "bottom", "values": [-20, -10, 0, 10, 20, 30], "title": "(d)", "titleX": 86.5, "titleY": 62.3, "titleFontWeight": "bold", "titleColor": "#1a76b8"}},
    "y": {"field": "y", "type": "quantitative", "scale": {"domain": [-17.68, 21.9], "nice": false, "zero": false}, "axis": {"orient": "left", "values": [-15, -10, -5, 0, 5, 10, 15, 20], "title": "Ours", "titleX": 249, "titleY": 332.3, "titleFontWeight": "bold"}},
    "color": {"field": "g", "type": "nominal", "scale": {"domain": ["White", "Male"], "range": ["#000080", "#8b0000"]}, "legend": {}}
   }},
  {"transform": [{"filter": "datum.g === 'Male'"}],
   "mark": {"type": "circle", "size": 56, "opacity": 0.6},
   "encoding": {
    "x": {"field": "x", "type": "quantitative", "scale": {"domain": [-23.9, 32.9], "nice": false, "zero": false}, "axis": {"orient": "top", "labels": false, "ticks": false, "domain": false, "title": "ν̂₁ˢ and ν̂₁ᵀ", "titleFont": "Liberation Serif", "titleFontSize": 22, "titleX": 117.5, "titleY": 332.3}},
    "y": {"field": "y", "type": "quantitative", "scale": {"domain": [-17.68, 21.9], "nice": false, "zero": false}, "axis": {"orient": "right", "labels": false, "ticks": false, "domain": false, "title": "by", "titleX": -184.3, "titleY": 332.3}},
    "color": {"field": "g", "type": "nominal", "scale": {"domain": ["White", "Male"], "range": ["#000080", "#8b0000"]}}
   }}
 ]
}
], "spacing": 27, "resolve": {"scale": {"color": "independent"}, "legend": {"color": "independent"}}}
]
}
